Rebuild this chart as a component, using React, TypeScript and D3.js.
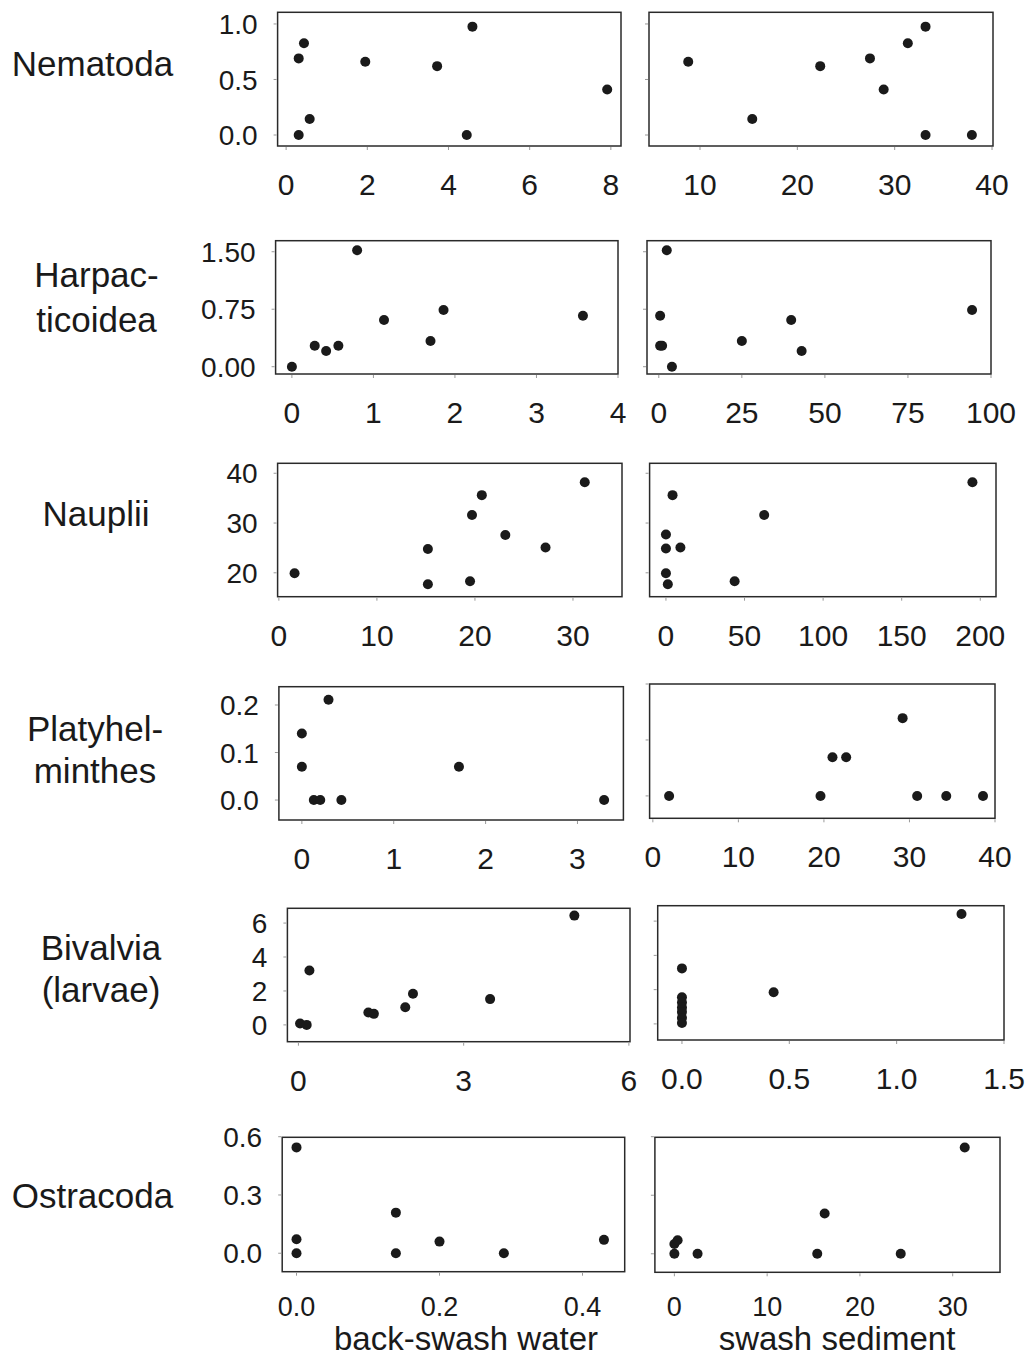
import React from 'react';
import * as d3 from 'd3';

type Pt = [number, number];

// row labels (one entry per line)
const rowLabels: string[][] = [
  ['Nematoda'],
  ['Harpac-', 'ticoidea'],
  ['Nauplii'],
  ['Platyhel-', 'minthes'],
  ['Bivalvia', '(larvae)'],
  ['Ostracoda'],
];

const xTitles = ['back-swash water', 'swash sediment'];

// data: [x, y]
const nematodaWater: Pt[] = [[0.31, 0.69], [0.44, 0.826], [0.31, 0], [0.58, 0.144], [1.95, 0.66], [3.72, 0.62], [4.59, 0.976], [4.45, 0], [7.91, 0.41]];
const nematodaSed: Pt[] = [[8.79, 0.66], [15.37, 0.144], [22.35, 0.62], [27.46, 0.69], [28.87, 0.41], [31.35, 0.826], [33.17, 0.976], [33.17, 0], [37.93, 0]];

const harpWater: Pt[] = [[0, 0], [0.28, 0.274], [0.42, 0.205], [0.57, 0.274], [0.8, 1.52], [1.13, 0.61], [1.7, 0.335], [1.86, 0.74], [3.57, 0.665]];
const harpSed: Pt[] = [[2.4, 1.52], [0.4, 0.665], [0.4, 0.274], [1.0, 0.274], [3.96, 0], [25, 0.335], [39.85, 0.61], [43, 0.205], [94.3, 0.74]];

const naupWater: Pt[] = [[1.6, 19.9], [15.2, 24.8], [15.2, 17.7], [19.5, 18.3], [19.7, 31.6], [20.7, 35.6], [23.1, 27.6], [27.2, 25.1], [31.2, 38.2]];
const naupSed: Pt[] = [[0, 27.7], [0, 24.9], [0, 19.9], [1.2, 17.7], [4.2, 35.6], [9.2, 25.1], [43.7, 18.3], [62.5, 31.6], [195, 38.2]];

const platWater: Pt[] = [[0, 0.14], [0, 0.07], [0.29, 0.211], [0.13, 0], [0.2, 0], [0.43, 0], [1.71, 0.07], [3.29, 0]];
const platSed: Pt[] = [[1.9, 0], [19.6, 0], [21.0, 0.069], [22.6, 0.069], [29.2, 0.139], [30.9, 0], [34.3, 0], [38.6, 0]];

const bivWater: Pt[] = [[0.03, 0.08], [0.15, 0], [0.2, 3.21], [1.27, 0.73], [1.37, 0.65], [1.94, 1.04], [2.08, 1.83], [3.48, 1.52], [5.01, 6.44]];
const bivSed: Pt[] = [[0, 3.24], [0, 1.55], [0, 1.25], [0, 0.95], [0, 0.7], [0, 0.35], [0, 0.05], [0.427, 1.85], [1.302, 6.42]];

const ostWater: Pt[] = [[0, 0.545], [0, 0.072], [0, 0], [0.139, 0.209], [0.139, 0], [0.2, 0.06], [0.29, 0], [0.43, 0.069]];
const ostSed: Pt[] = [[0, 0], [0, 0.05], [0.35, 0.069], [2.5, 0], [15.4, 0], [16.2, 0.206], [24.4, 0], [31.3, 0.545]];

// tick values
const nemXL = [0, 2, 4, 6, 8], nemXR = [10, 20, 30, 40], nemY = [0, 0.5, 1.0];
const harXL = [0, 1, 2, 3, 4], harXR = [0, 25, 50, 75, 100], harY = [0, 0.75, 1.5];
const nauXL = [0, 10, 20, 30], nauXR = [0, 50, 100, 150, 200], nauY = [20, 30, 40];
const plaXL = [0, 1, 2, 3], plaXR = [0, 10, 20, 30, 40], plaY = [0, 0.1, 0.2];
const bivXL = [0, 3, 6], bivXR = [0, 0.5, 1.0, 1.5], bivY = [0, 2, 4, 6];
const ostXL = [0, 0.2, 0.4], ostXR = [0, 10, 20, 30], ostY = [0, 0.3, 0.6];

interface Panel {
  box: [number, number, number, number]; // x0, x1, y0, y1 in px
  xDom: [number, number];
  yDom: [number, number];
  xTicks: number[];
  xFmt: string;
  yTicks: number[];
  yFmt: string | null;
  pts: Pt[];
}

const panels: Panel[][] = [
  [
    { box: [277.6, 621, 12.3, 146], xDom: [-0.21, 8.25], yDom: [-0.099, 1.105], xTicks: nemXL, xFmt: 'd', yTicks: nemY, yFmt: '.1f', pts: nematodaWater },
    { box: [649, 993, 12.3, 146], xDom: [4.76, 40.1], yDom: [-0.099, 1.105], xTicks: nemXR, xFmt: 'd', yTicks: nemY, yFmt: null, pts: nematodaSed },
  ],
  [
    { box: [275.6, 618, 240.7, 374], xDom: [-0.2, 4.0], yDom: [-0.095, 1.644], xTicks: harXL, xFmt: 'd', yTicks: harY, yFmt: '.2f', pts: harpWater },
    { box: [647, 991, 240.7, 374], xDom: [-3.55, 100], yDom: [-0.095, 1.644], xTicks: harXR, xFmt: 'd', yTicks: harY, yFmt: null, pts: harpSed },
  ],
  [
    { box: [277.6, 622, 463.3, 596.7], xDom: [-0.13, 35.0], yDom: [15.2, 42.0], xTicks: nauXL, xFmt: 'd', yTicks: nauY, yFmt: 'd', pts: naupWater },
    { box: [649.6, 996, 463.3, 596.7], xDom: [-10.4, 210], yDom: [15.2, 42.0], xTicks: nauXR, xFmt: 'd', yTicks: nauY, yFmt: null, pts: naupSed },
  ],
  [
    { box: [278.9, 623.4, 686.7, 820], xDom: [-0.25, 3.5], yDom: [-0.042, 0.2385], xTicks: plaXL, xFmt: 'd', yTicks: plaY, yFmt: '.1f', pts: platWater },
    { box: [649.6, 995, 684, 818.3], xDom: [-0.38, 40], yDom: [-0.04, 0.2], xTicks: plaXR, xFmt: 'd', yTicks: plaY, yFmt: null, pts: platSed },
  ],
  [
    { box: [287.4, 630, 908.3, 1041.7], xDom: [-0.2, 6.02], yDom: [-0.99, 6.87], xTicks: bivXL, xFmt: 'd', yTicks: bivY, yFmt: 'd', pts: bivWater },
    { box: [657.7, 1004, 905.7, 1040], xDom: [-0.113, 1.5], yDom: [-0.94, 6.9], xTicks: bivXR, xFmt: '.1f', yTicks: bivY, yFmt: null, pts: bivSed },
  ],
  [
    { box: [282.2, 624.7, 1137.3, 1271.7], xDom: [-0.02, 0.459], yDom: [-0.095, 0.597], xTicks: ostXL, xFmt: '.1f', yTicks: ostY, yFmt: '.1f', pts: ostWater },
    { box: [654.9, 1000, 1137.3, 1272.3], xDom: [-2.1, 35.1], yDom: [-0.095, 0.597], xTicks: ostXR, xFmt: 'd', yTicks: ostY, yFmt: null, pts: ostSed },
  ],
];

// label placement: [centre x, first baseline, line gap]
const labelPos: [number, number, number][] = [
  [92.5, 76, 0],
  [96.5, 287, 45],
  [96, 526, 0],
  [95, 741, 42],
  [101, 960, 42],
  [92.5, 1208, 0],
];

const FONT = '"Liberation Sans", Arial, Helvetica, sans-serif';
const INK = '#1a1a1a';

function PanelView({ p, last }: { p: Panel; last: boolean }) {
  const [x0, x1, y0, y1] = p.box;
  const x = d3.scaleLinear().domain(p.xDom).range([x0, x1]);
  const y = d3.scaleLinear().domain(p.yDom).range([y1, y0]);
  const xf = d3.format(p.xFmt);
  const yf = p.yFmt ? d3.format(p.yFmt) : null;
  const xSize = last ? 27 : 30;
  const xOff = last ? 44 : 49;
  return (
    <g>
      <rect x={x0} y={y0} width={x1 - x0} height={y1 - y0} fill="none" stroke="#2a2a2a" strokeWidth={1.5} />
      {p.xTicks.map(t => (
        <g key={'x' + t}>
          <line x1={x(t)} x2={x(t)} y1={y1 + 1} y2={y1 + 4} stroke="#999" strokeWidth={1} />
          <text x={x(t)} y={y1 + xOff} textAnchor="middle" fontSize={xSize} fontFamily={FONT} fill={INK}>{xf(t)}</text>
        </g>
      ))}
      {p.yTicks.map(t => (
        <g key={'y' + t}>
          <line x1={x0 - 4} x2={x0 - 1} y1={y(t)} y2={y(t)} stroke="#999" strokeWidth={1} />
          {yf && (
            <text x={x0 - 20} y={y(t)} dy="0.36em" textAnchor="end" fontSize={28} fontFamily={FONT} fill={INK}>{yf(t)}</text>
          )}
        </g>
      ))}
      {p.pts.map((d, i) => (
        <circle key={i} cx={x(d[0])} cy={y(d[1])} r={5} fill={INK} />
      ))}
    </g>
  );
}

export default function App() {
  return (
    <svg width={1025} height={1359} style={{ position: 'absolute', left: 0, top: 0, background: '#fff' }}>
      <rect width={1025} height={1359} fill="#fff" />
      {rowLabels.map((lines, r) => (
        <text key={'l' + r} textAnchor="middle" fontSize={35} fontFamily={FONT} fill={INK}>
          {lines.map((ln, j) => (
            <tspan key={j} x={labelPos[r][0]} y={labelPos[r][1] + j * labelPos[r][2]}>{ln}</tspan>
          ))}
        </text>
      ))}
      {panels.map((row, r) => (
        <g key={'r' + r}>
          {row.map((p, c) => <PanelView key={c} p={p} last={r === panels.length - 1} />)}
        </g>
      ))}
      <text x={466} y={1350} textAnchor="middle" fontSize={33} fontFamily={FONT} fill={INK}>{xTitles[0]}</text>
      <text x={837} y={1350} textAnchor="middle" fontSize={33} fontFamily={FONT} fill={INK}>{xTitles[1]}</text>
    </svg>
  );
}
